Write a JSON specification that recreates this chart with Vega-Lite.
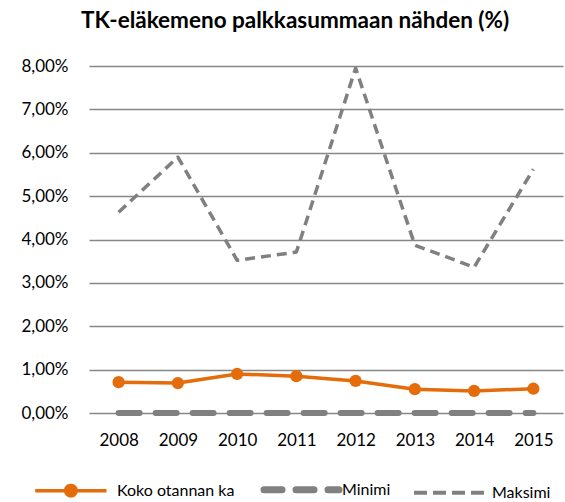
{
  "$schema": "https://vega.github.io/schema/vega-lite/v6.json",
  "width": 474,
  "height": 347,
  "autosize": {"type": "none"},
  "padding": {"left": 89, "top": 66, "right": 2, "bottom": 89},
  "background": "white",
  "title": {
    "text": "TK-eläkemeno palkkasummaan nähden (%)",
    "font": "Lato",
    "fontSize": 22.5,
    "fontWeight": "bold",
    "color": "#000000",
    "anchor": "middle",
    "frame": "group",
    "dx": -31,
    "offset": 25
  },
  "config": {
    "view": {"stroke": null},
    "font": "Lato"
  },
  "data": {
    "values": [
      {"year": "2008", "series": "Koko otannan ka", "value": 0.71},
      {"year": "2009", "series": "Koko otannan ka", "value": 0.69},
      {"year": "2010", "series": "Koko otannan ka", "value": 0.90},
      {"year": "2011", "series": "Koko otannan ka", "value": 0.85},
      {"year": "2012", "series": "Koko otannan ka", "value": 0.74},
      {"year": "2013", "series": "Koko otannan ka", "value": 0.55},
      {"year": "2014", "series": "Koko otannan ka", "value": 0.51},
      {"year": "2015", "series": "Koko otannan ka", "value": 0.56},
      {"year": "2008", "series": "Minimi", "value": 0},
      {"year": "2009", "series": "Minimi", "value": 0},
      {"year": "2010", "series": "Minimi", "value": 0},
      {"year": "2011", "series": "Minimi", "value": 0},
      {"year": "2012", "series": "Minimi", "value": 0},
      {"year": "2013", "series": "Minimi", "value": 0},
      {"year": "2014", "series": "Minimi", "value": 0},
      {"year": "2015", "series": "Minimi", "value": 0},
      {"year": "2008", "series": "Maksimi", "value": 4.63},
      {"year": "2009", "series": "Maksimi", "value": 5.90},
      {"year": "2010", "series": "Maksimi", "value": 3.52},
      {"year": "2011", "series": "Maksimi", "value": 3.71},
      {"year": "2012", "series": "Maksimi", "value": 7.95},
      {"year": "2013", "series": "Maksimi", "value": 3.87},
      {"year": "2014", "series": "Maksimi", "value": 3.36},
      {"year": "2015", "series": "Maksimi", "value": 5.62}
    ]
  },
  "encoding": {
    "x": {
      "field": "year", "type": "ordinal",
      "scale": {"paddingInner": 0, "paddingOuter": 0.5},
      "axis": {
        "title": null, "labelAngle": 0, "domain": false, "ticks": false,
        "labelFontSize": 17, "labelColor": "#000000", "labelPadding": 19, "labelFont": "Lato"
      }
    },
    "y": {
      "field": "value", "type": "quantitative",
      "scale": {"domain": [0, 8], "nice": false},
      "axis": {
        "title": null, "values": [0,1,2,3,4,5,6,7,8], "domain": false, "ticks": false,
        "grid": true, "gridColor": "#878787", "gridWidth": 1.4,
        "labelFontSize": 17, "labelColor": "#000000", "labelPadding": 21, "labelFont": "Lato",
        "labelExpr": "replace(format(datum.value, '.2f'), '.', ',') + '%'"
      }
    },
    "color": {
      "field": "series", "type": "nominal",
      "scale": {"domain": ["Koko otannan ka", "Minimi", "Maksimi"], "range": ["#E46C0A", "#808080", "#808080"]},
      "legend": {
        "title": null, "orient": "none", "direction": "horizontal",
        "legendX": -52, "legendY": 384,
        "symbolType": "stroke", "symbolSize": 5625,
        "labelFontSize": 16, "labelColor": "#000000", "labelFont": "Lato",
        "labelOffset": 1, "columnPadding": 15,
        "encode": {
          "symbols": {
            "update": {
              "shape": {"signal": "(datum.value === 'Koko otannan ka' ? 'M-1.1,0H0.8M-0.29,0A0.14,0.14 0 1,0 -0.01,0A0.14,0.14 0 1,0 -0.29,0Z' : 'stroke')"},
              "fill": {"signal": "(datum.value === 'Koko otannan ka' ? '#E46C0A' : 'transparent')"},
              "strokeWidth": {"signal": "(datum.value === 'Minimi' ? 7 : (datum.value === 'Maksimi' ? 4 : 3.5))"},
              "strokeDash": {"signal": "(datum.value === 'Minimi' ? [18, 14] : (datum.value === 'Maksimi' ? [13, 6] : [1, 0]))"},
              "strokeCap": {"signal": "(datum.value === 'Minimi' ? 'round' : 'butt')"}
            }
          }
        }
      }
    }
  },
  "layer": [
    {
      "transform": [{"filter": "datum.series === 'Minimi'"}],
      "mark": {"type": "line", "strokeCap": "round", "strokeWidth": 6, "strokeDash": [21, 16]}
    },
    {
      "transform": [{"filter": "datum.series === 'Maksimi'"}],
      "mark": {"type": "line", "strokeCap": "butt", "strokeJoin": "round", "strokeWidth": 3.5, "strokeDash": [10, 6]}
    },
    {
      "transform": [{"filter": "datum.series === 'Koko otannan ka'"}],
      "mark": {"type": "line", "strokeCap": "round", "strokeJoin": "round", "strokeWidth": 3.5}
    },
    {
      "transform": [{"filter": "datum.series === 'Koko otannan ka'"}],
      "mark": {"type": "point", "filled": true, "opacity": 1, "size": 150, "color": "#E46C0A", "shape": "circle"},
      "encoding": {"color": null}
    }
  ]
}
